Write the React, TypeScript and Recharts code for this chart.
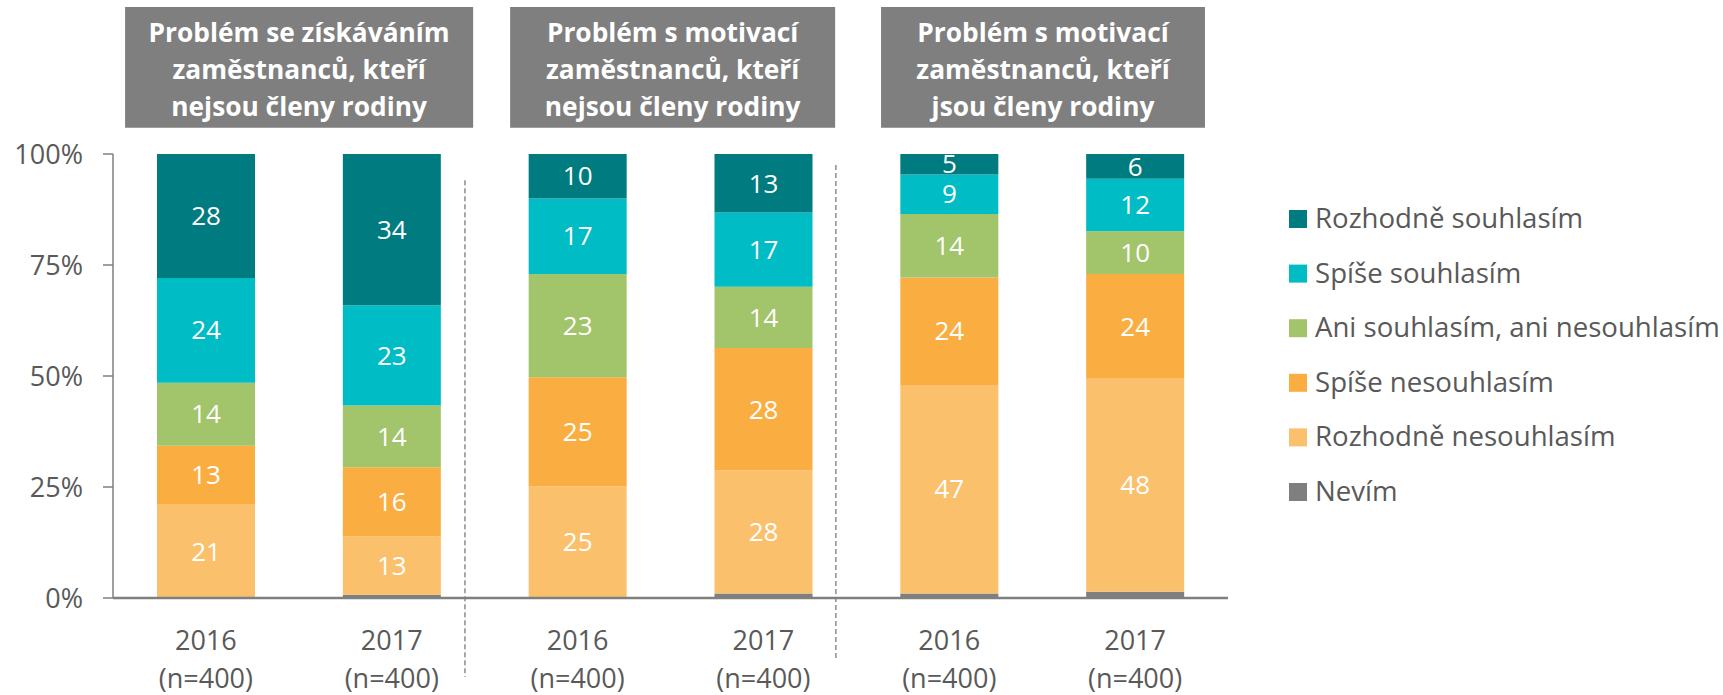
import React from 'react';
import { BarChart, Bar, XAxis, YAxis, LabelList, ReferenceArea, ReferenceLine } from 'recharts';

// ---------- data ----------
const categories = ['g1-2016', 'g1-2017', 'g2-2016', 'g2-2017', 'g3-2016', 'g3-2017'];
const years = ['2016', '2017', '2016', '2017', '2016', '2017'];
const sampleSizes = ['(n=400)', '(n=400)', '(n=400)', '(n=400)', '(n=400)', '(n=400)'];

const nevim = [0, 0.75, 0.2, 1.0, 1.0, 1.4];
const rozhodneNesouhlasim = [21.0, 13.1, 24.9, 27.7, 47.0, 48.0];
const spiseNesouhlasim = [13.3, 15.6, 24.6, 27.6, 24.2, 23.6];
const aniAni = [14.2, 13.9, 23.3, 13.8, 14.3, 9.6];
const spiseSouhlasim = [23.6, 22.6, 17.0, 16.7, 8.9, 11.8];
const rozhodneSouhlasim = [27.9, 34.05, 10.0, 13.2, 4.6, 5.6];

const yTicks = [0, 25, 50, 75, 100];

const groupTitles = [
  ['Problém se získáváním', 'zaměstnanců, kteří', 'nejsou členy rodiny'],
  ['Problém s motivací', 'zaměstnanců, kteří', 'nejsou členy rodiny'],
  ['Problém s motivací', 'zaměstnanců, kteří', 'jsou členy rodiny'],
];

const series = [
  { key: 'nevim', name: 'Nevím', color: '#7F7F7F', label: false },
  { key: 'rn', name: 'Rozhodně nesouhlasím', color: '#FBC06B', label: true },
  { key: 'sn', name: 'Spíše nesouhlasím', color: '#FAAE42', label: true },
  { key: 'ani', name: 'Ani souhlasím, ani nesouhlasím', color: '#A2C46A', label: true },
  { key: 'ss', name: 'Spíše souhlasím', color: '#00BCC5', label: true },
  { key: 'rs', name: 'Rozhodně souhlasím', color: '#007B7F', label: true },
];

const data = categories.map((cat, i) => ({
  cat,
  pos: i + 0.5,
  nevim: nevim[i],
  rn: rozhodneNesouhlasim[i],
  sn: spiseNesouhlasim[i],
  ani: aniAni[i],
  ss: spiseSouhlasim[i],
  rs: rozhodneSouhlasim[i],
}));

// ---------- layout (in units of a hidden 0..6 band-position axis) ----------
const titleBoxes = [
  { x1: 0.065, x2: 1.938 },
  { x1: 2.137, x2: 3.886 },
  { x1: 4.133, x2: 5.876 },
];
const titleY = [105.9, 133.1];
const dividers = [
  { x: 1.894, top: 94.1, bottom: -17.8 },
  { x: 3.89, top: 97.5, bottom: -14.0 },
];

const FONT = '"Open Sans", "DejaVu Sans", sans-serif';
const GRAY_TEXT = '#595959';
const AXIS = '#7F7F7F';

const XTick = (props: any) => {
  const { x, y, payload } = props;
  const i = payload.index;
  return (
    <g>
      <text x={x} y={y + 52} textAnchor="middle" fill={GRAY_TEXT} fontSize={27} fontFamily={FONT}>
        {years[i]}
      </text>
      <text x={x} y={y + 90} textAnchor="middle" fill={GRAY_TEXT} fontSize={27} fontFamily={FONT}>
        {sampleSizes[i]}
      </text>
    </g>
  );
};

const makeTitle = (lines: string[]) => (props: any) => {
  const vb = props.viewBox || {};
  const cx = vb.x + vb.width / 2;
  const offs = [35, 72, 109];
  return (
    <text textAnchor="middle" fill="#FFFFFF" fontSize={26.3} fontWeight="bold" fontFamily={FONT}>
      {lines.map((l, k) => (
        <tspan key={k} x={cx} y={vb.y + offs[k]}>
          {l}
        </tspan>
      ))}
    </text>
  );
};

const Legend = () => {
  const items = [...series].reverse();
  return (
    <svg
      width={434}
      height={320}
      style={{ position: 'absolute', left: 1289, top: 190, overflow: 'visible' }}
    >
      {items.map((s, i) => {
        const base = 38 + i * 54.6;
        return (
          <g key={s.key}>
            <rect x={0} y={base - 18} width={18} height={18} fill={s.color} />
            <text x={26} y={base} fill={GRAY_TEXT} fontSize={27.6} fontFamily={FONT}>
              {s.name}
            </text>
          </g>
        );
      })}
    </svg>
  );
};

export default function App() {
  return (
    <div
      style={{
        position: 'absolute',
        left: 0,
        top: 0,
        width: 1723,
        height: 695,
        overflow: 'hidden',
        background: '#FFFFFF',
        fontFamily: FONT,
      }}
    >
      <BarChart
        width={1723}
        height={695}
        data={data}
        margin={{ top: 154, right: 495, bottom: 0, left: 0 }}
        barSize={98}
      >
        <XAxis
          dataKey="cat"
          height={97}
          interval={0}
          tickLine={false}
          tickSize={0}
          tickMargin={0}
          axisLine={{ stroke: AXIS, strokeWidth: 2.5 }}
          tick={<XTick />}
        />
        <XAxis
          xAxisId="n"
          dataKey="pos"
          type="number"
          domain={[0, 6]}
          allowDataOverflow
          padding={{ left: 0, right: 0 }}
          hide
        />
        <YAxis
          width={113}
          domain={[0, 100]}
          ticks={yTicks}
          allowDataOverflow
          tickFormatter={(v: any) => `${v}%`}
          tick={{ fill: GRAY_TEXT, fontSize: 27, fontFamily: FONT }}
          tickSize={10}
          tickMargin={20}
          tickLine={{ stroke: AXIS, strokeWidth: 1.5 }}
          axisLine={{ stroke: AXIS, strokeWidth: 1.5 }}
        />
        {series.map((s) => (
          <Bar key={s.key} dataKey={s.key} name={s.name} stackId="a" fill={s.color} isAnimationActive={false}>
            {s.label && (
              <LabelList
                dataKey={s.key}
                position="center"
                fill="#FFFFFF"
                fontSize={26}
                fontFamily={FONT}
                formatter={(v: any) => Math.round(Number(v))}
              />
            )}
          </Bar>
        ))}
        {titleBoxes.map((b, i) => (
          <ReferenceArea
            key={`t${i}`}
            xAxisId="n"
            x1={b.x1}
            x2={b.x2}
            y1={titleY[0]}
            y2={titleY[1]}
            fill="#7F7F7F"
            fillOpacity={1}
            stroke="none"
            ifOverflow="visible"
            label={makeTitle(groupTitles[i])}
          />
        ))}
        {dividers.map((d, i) => (
          <ReferenceLine
            key={`d${i}`}
            xAxisId="n"
            segment={[
              { x: d.x, y: d.top },
              { x: d.x, y: d.bottom },
            ]}
            stroke="#8C8C8C"
            strokeWidth={1.5}
            strokeDasharray="5 3"
            ifOverflow="visible"
          />
        ))}
      </BarChart>
      <Legend />
    </div>
  );
}
